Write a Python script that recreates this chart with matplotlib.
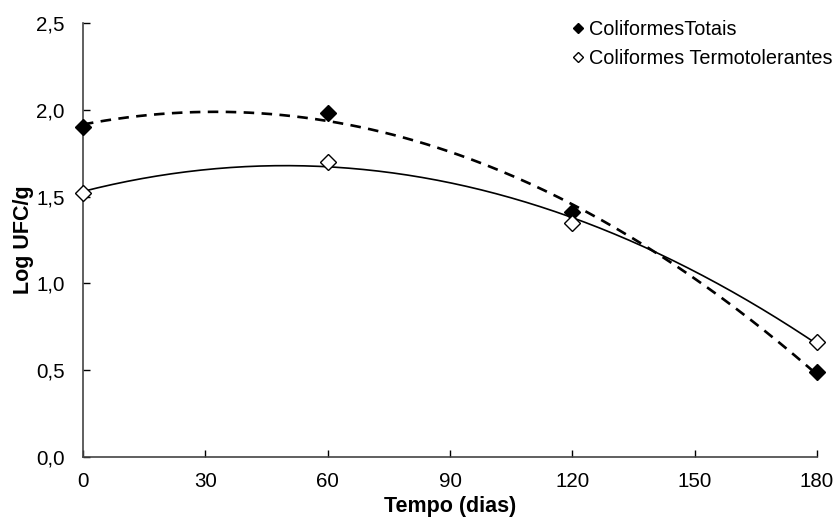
import matplotlib
matplotlib.use("Agg")
import matplotlib.pyplot as plt
import numpy as np
from matplotlib.ticker import FuncFormatter

plt.rcParams['font.family'] = ['Liberation Sans', 'DejaVu Sans']

dias = [0, 60, 120, 180]
totais = [1.90, 1.98, 1.41, 0.49]
termo = [1.52, 1.70, 1.35, 0.66]

nome_totais = "ColiformesTotais"
nome_termo = "Coliformes Termotolerantes"

fig = plt.figure(figsize=(8.38, 5.2), dpi=100)
ax = fig.add_axes([0.099, 0.121, 0.876, 0.835])

# linhas de tendencia polinomial (2a ordem)
xx = np.linspace(0, 180, 200)
p1 = np.polyfit(dias, totais, 2)
p2 = np.polyfit(dias, termo, 2)
ax.plot(xx, np.polyval(p1, xx), color='black', lw=1.9, ls=(0, (4, 2.8)), zorder=2)
ax.plot(xx, np.polyval(p2, xx), color='black', lw=1.2, ls='-', zorder=2)

ax.plot(dias, totais, ls='none', marker='D', ms=8.5, mfc='black', mec='black',
        label=nome_totais, zorder=3, clip_on=False)
ax.plot(dias, termo, ls='none', marker='D', ms=8.5, mfc='white', mec='black',
        mew=1.0, label=nome_termo, zorder=3, clip_on=False)

ax.set_xlim(0, 180)
ax.set_ylim(0, 2.5)
ax.set_xticks(range(0, 181, 30))
ax.set_yticks(np.arange(0, 2.51, 0.5))
ax.yaxis.set_major_formatter(FuncFormatter(lambda v, p: f"{v:.1f}".replace('.', ',')))
ax.tick_params(direction='in', length=5, width=1, labelsize=14.8, colors='black')
ax.tick_params(axis='x', pad=11)
ax.tick_params(axis='y', pad=13)

for s in ['top', 'right']:
    ax.spines[s].set_visible(False)
for s in ['left', 'bottom']:
    ax.spines[s].set_color('#444444')
    ax.spines[s].set_linewidth(1.2)

ax.set_xlabel("Tempo (dias)", fontsize=15.5, fontweight='bold', labelpad=3)
ax.set_ylabel("Log UFC/g", fontsize=15.5, fontweight='bold', labelpad=2)

leg = fig.legend(loc='upper left', bbox_to_anchor=(573 / 838, 1 - 20 / 520), frameon=False,
                 fontsize=14.3, handlelength=0.5, handletextpad=0.3, borderpad=0,
                 borderaxespad=0, labelspacing=0.5, markerscale=0.65)

fig.savefig("out.png", dpi=100)
